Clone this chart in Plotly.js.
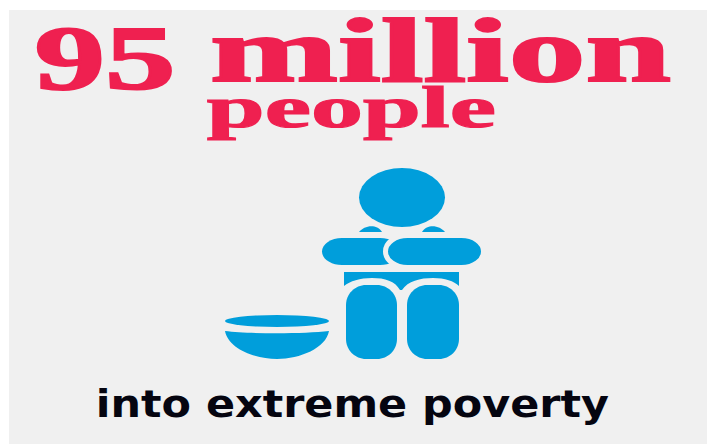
<!DOCTYPE html>
<html><head><meta charset="utf-8">
<script src="https://cdn.plot.ly/plotly-3.0.1.min.js"></script>
<style>html,body{margin:0;padding:0;background:#fff;overflow:hidden}</style>
</head><body><div id="chart" style="width:707px;height:444px"></div>
<script>
const headlineValue = ["95"];
const headlineUnit = ["million"];
const headlineSubject = ["people"];
const caption = ["into extreme poverty"];

const RED = "#EF2050", BLUE = "#009EDB", BG = "#F0F0F0";
const serif = "Liberation Serif", sans = "DejaVu Sans";

function note(text, x, y, size, family, color) {
  return {text: "<b>" + text + "</b>", x, y, xref: "x", yref: "y", xanchor: "center", yanchor: "middle",
    showarrow: false, font: {family, size, color}, borderpad: 0, borderwidth: 0};
}
const notes = [
  [headlineValue[0], 105, 58, 90, serif, RED, 141, 2],
  [headlineUnit[0], 440.5, 50.4, 91, serif, RED, 461, 2],
  [headlineSubject[0], 351, 106.5, 60, serif, RED, 289, 1.2],
  [caption[0], 352, 404.3, 37, sans, "#050510", 513, 0]
];

function ell(x0, y0, x1, y1, fill) {
  return {type: "circle", xref: "x", yref: "y", x0, y0, x1, y1, fillcolor: fill, line: {width: 0}, layer: "above"};
}
function rect(x0, y0, x1, y1, fill) {
  return {type: "rect", xref: "x", yref: "y", x0, y0, x1, y1, fillcolor: fill, line: {width: 0}, layer: "above"};
}
function path(d, fill, line) {
  return {type: "path", xref: "x", yref: "y", path: d, fillcolor: fill, line: line || {width: 0}, layer: "above"};
}
function pill(x0, y0, x1, y1, r) {
  const h = y1 - y0;
  return `M${x0 + r},${y0} L${x1 - r},${y0} C${x1 - r * .45},${y0} ${x1},${y0 + h * .22} ${x1},${(y0 + y1) / 2} ` +
    `C${x1},${y1 - h * .22} ${x1 - r * .45},${y1} ${x1 - r},${y1} L${x0 + r},${y1} ` +
    `C${x0 + r * .45},${y1} ${x0},${y1 - h * .22} ${x0},${(y0 + y1) / 2} ` +
    `C${x0},${y0 + h * .22} ${x0 + r * .45},${y0} ${x0 + r},${y0} Z`;
}
function leg(x0, x1, top, bot, r) {
  const k = r * .45;
  return `M${x0},${top + r} C${x0},${top + k} ${x0 + k},${top} ${x0 + r},${top} L${x1 - r},${top} ` +
    `C${x1 - k},${top} ${x1},${top + k} ${x1},${top + r} L${x1},${bot - r} C${x1},${bot - k} ${x1 - k},${bot} ${x1 - r},${bot} ` +
    `L${x0 + r},${bot} C${x0 + k},${bot} ${x0},${bot - k} ${x0},${bot - r} Z`;
}

const shapes = [
  rect(9, 10, 707, 444, BG),
  ell(359, 168, 445, 227, BLUE),
  path("M359,232 C364,226 376,223 382,232 Z", BLUE),
  path("M422,232 C428,223 440,226 445,232 Z", BLUE),
  path(pill(322, 238, 400, 265, 20), BLUE),
  path(pill(385.5, 235.5, 483.5, 267.5, 22), BLUE, {color: BG, width: 5}),
  path("M344,272 L459,272 L459,286 C454,281 445,278 433,278 C420,278 408,281 402,290 L400,290 C395,281 385,278 372,278 C360,278 350,281 344,286 Z", BLUE),
  path(leg(346, 397, 285, 359, 20), BLUE),
  path(leg(407, 459, 285, 359, 20), BLUE),
  ell(225, 315, 329, 327, BLUE),
  path("M225,331 C250,334 304,334 329,331 C326,348 300,359 277,359 C254,359 228,348 225,331 Z", BLUE)
];

const layout = {
  width: 707, height: 444, margin: {l: 0, r: 0, t: 0, b: 0},
  paper_bgcolor: "#fff", plot_bgcolor: "#fff", showlegend: false,
  xaxis: {range: [0, 707], visible: false, fixedrange: true},
  yaxis: {range: [444, 0], visible: false, fixedrange: true},
  shapes,
  annotations: notes.map(n => note(n[0], n[1], n[2], n[3], n[4], n[5]))
};
Plotly.newPlot("chart", [], layout, {displayModeBar: false, staticPlot: true}).then(() => {
  document.querySelectorAll(".annotation-text").forEach((t, i) => {
    t.setAttribute("textLength", notes[i][6]);
    t.setAttribute("lengthAdjust", "spacingAndGlyphs");
    if (notes[i][7]) { t.style.stroke = notes[i][5]; t.style.strokeWidth = notes[i][7] + "px"; }
  });
});
</script></body></html>
